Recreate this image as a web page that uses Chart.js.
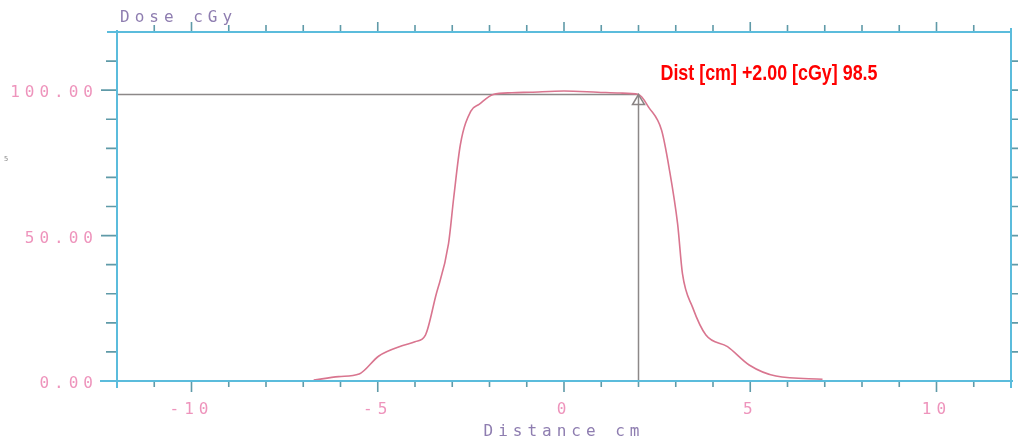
<!DOCTYPE html>
<html>
<head>
<meta charset="utf-8">
<script src="https://cdn.jsdelivr.net/npm/chart.js@4/dist/chart.umd.min.js"></script>
<style>
  html, body { margin: 0; padding: 0; background: #fff; }
  canvas { display: block; }
</style>
</head>
<body>
<canvas id="profile" width="1018" height="441"></canvas>
<script>
// beam profile: distance from axis (cm) vs dose (cGy)
const distCm = [-6.72, -6.05, -5.5, -4.97, -4.35, -4.0, -3.72, -3.45, -3.1, -2.96, -2.78, -2.5, -2.28, -1.9, -1.4, -0.9, 0, 0.9, 1.5, 2.0, 2.28, 2.62, 2.82, 3.05, 3.18, 3.45, 3.81, 4.39, 4.97, 5.69, 6.94];
const doseCGy = [0.3, 1.5, 2.4, 8.6, 12.1, 13.5, 15.8, 28.9, 47.2, 63.1, 81.4, 92.8, 95.1, 98.5, 99.1, 99.3, 99.7, 99.3, 99.0, 98.5, 94.0, 86.2, 73.4, 54.0, 36.9, 25.4, 15.8, 11.8, 5.5, 1.7, 0.6];

const xRange = [-12, 12];
const yRange = [0, 120];
const xLabelTicks = [-10, -5, 0, 5, 10];
const yLabelTicks = [0, 50, 100];

// cursor readout
const markX = 2.0;
const markY = 98.5;

const plotFont = '"DejaVu Sans Mono", monospace';
const plotSpacing = '5px';
const pink = '#ee94bc';
const purple = '#8e7db0';
const axisBlue = '#5bbcdc';
const tickTeal = '#5f9aa8';

const profile = distCm.map((x, i) => ({ x: x, y: doseCGy[i] }));
const cursor = [{ x: xRange[0], y: markY }, { x: markX, y: markY }, { x: markX, y: 0 }];

const framePlugin = {
  id: 'frame',
  beforeDraw(chart) {
    chart.ctx.letterSpacing = plotSpacing;
  },
  afterDraw(chart) {
    const { ctx, chartArea: a, scales: { x, y } } = chart;
    ctx.save();
    ctx.letterSpacing = '0px';

    // tick marks on all four sides, every 1 cm and every 10 cGy
    ctx.strokeStyle = tickTeal;
    ctx.lineWidth = 1.6;
    ctx.beginPath();
    for (let v = xRange[0] + 1; v < xRange[1]; v++) {
      const px = x.getPixelForValue(v);
      const major = v % 5 === 0;
      ctx.moveTo(px, a.bottom); ctx.lineTo(px, a.bottom + (major ? 11 : 6));
      ctx.moveTo(px, a.top); ctx.lineTo(px, a.top - (major ? 10 : 7));
    }
    for (let v = yRange[0]; v < yRange[1]; v += 10) {
      const py = y.getPixelForValue(v);
      const major = v % 50 === 0;
      ctx.moveTo(a.left, py); ctx.lineTo(a.left - (major ? 16 : 11), py);
      if (v > 0) { ctx.moveTo(a.right, py); ctx.lineTo(a.right + 7, py); }
    }
    ctx.stroke();

    // frame
    ctx.strokeStyle = axisBlue;
    ctx.lineWidth = 2;
    ctx.beginPath();
    ctx.moveTo(a.left - 10, a.top); ctx.lineTo(a.right, a.top);
    ctx.moveTo(a.left - 17, a.bottom); ctx.lineTo(a.right + 2, a.bottom);
    ctx.moveTo(a.left, a.top - 2); ctx.lineTo(a.left, a.bottom + 7);
    ctx.moveTo(a.right, a.top - 4); ctx.lineTo(a.right, a.bottom + 7);
    ctx.stroke();

    // open triangle hanging from the cursor point
    const mx = x.getPixelForValue(markX);
    const my = y.getPixelForValue(markY);
    ctx.strokeStyle = '#8a8484';
    ctx.lineWidth = 1.5;
    ctx.beginPath();
    ctx.moveTo(mx, my);
    ctx.lineTo(mx + 6, my + 10);
    ctx.lineTo(mx - 6, my + 10);
    ctx.closePath();
    ctx.stroke();

    // readout text
    const label = 'Dist [cm] +' + markX.toFixed(2) + ' [cGy] ' + markY;
    ctx.font = 'bold 22px "Liberation Sans", Arial, sans-serif';
    ctx.fillStyle = '#ff0000';
    ctx.textBaseline = 'alphabetic';
    const w = ctx.measureText(label).width;
    ctx.translate(mx + 22, my - 15);
    ctx.scale(217 / w, 1);
    ctx.fillText(label, 0, 0);
    ctx.setTransform(1, 0, 0, 1, 0, 0);

    // axis caption
    ctx.letterSpacing = plotSpacing;
    ctx.font = '16px ' + plotFont;
    ctx.fillStyle = purple;
    ctx.fillText('Dose cGy', a.left + 3, 22);

    ctx.letterSpacing = '0px';
    ctx.font = '7px ' + plotFont;
    ctx.fillStyle = '#888';
    ctx.fillText('5', 4, 161);
    ctx.restore();
  }
};

new Chart(document.getElementById('profile'), {
  type: 'line',
  data: {
    datasets: [
      {
        data: profile,
        borderColor: '#d9758f',
        borderWidth: 1.6,
        pointRadius: 0,
        cubicInterpolationMode: 'monotone',
        fill: false
      },
      {
        data: cursor,
        borderColor: '#8c8888',
        borderWidth: 1.5,
        pointRadius: 0,
        tension: 0,
        fill: false
      }
    ]
  },
  options: {
    responsive: false,
    animation: false,
    devicePixelRatio: 1,
    layout: { padding: { left: 0, top: 32, right: 7, bottom: 0 } },
    plugins: { legend: { display: false }, tooltip: { enabled: false } },
    scales: {
      x: {
        type: 'linear',
        min: xRange[0],
        max: xRange[1],
        grid: { display: false, drawTicks: false },
        border: { display: false },
        afterBuildTicks: s => { s.ticks = xLabelTicks.map(v => ({ value: v })); },
        afterFit: s => { s.height = 60; },
        ticks: {
          padding: 19,
          color: pink,
          font: { family: plotFont, size: 16 },
          callback: v => String(v)
        },
        title: {
          display: true,
          text: 'Distance cm',
          color: purple,
          font: { family: plotFont, size: 16 },
          padding: { top: 0, bottom: 0 }
        }
      },
      y: {
        min: yRange[0],
        max: yRange[1],
        grid: { display: false, drawTicks: false },
        border: { display: false },
        afterBuildTicks: s => { s.ticks = yLabelTicks.map(v => ({ value: v })); },
        afterFit: s => { s.width = 117; },
        ticks: {
          padding: 19,
          labelOffset: 3,
          color: pink,
          font: { family: plotFont, size: 16 },
          callback: v => v.toFixed(2)
        }
      }
    }
  },
  plugins: [framePlugin]
});
</script>
</body>
</html>
